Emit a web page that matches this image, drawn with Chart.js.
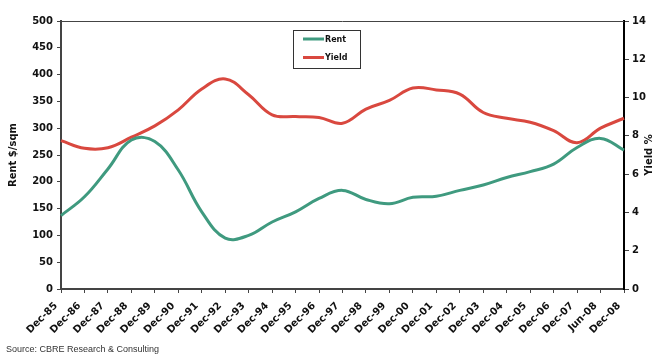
<!DOCTYPE html>
<html>
<head>
<meta charset="utf-8">
<script src="https://cdn.jsdelivr.net/npm/chart.js@4/dist/chart.umd.min.js"></script>
<style>
  html, body { margin: 0; padding: 0; background: #fff; }
  #wrap { width: 655px; height: 354px; position: relative; }
</style>
</head>
<body>
<div id="wrap"><canvas id="c" width="655" height="354"></canvas></div>
<script>
// Periods on the horizontal axis
const categories = ['Dec-85','Dec-86','Dec-87','Dec-88','Dec-89','Dec-90','Dec-91','Dec-92','Dec-93',
  'Dec-94','Dec-95','Dec-96','Dec-97','Dec-98','Dec-99','Dec-00','Dec-01','Dec-02','Dec-03',
  'Dec-04','Dec-05','Dec-06','Dec-07','Jun-08','Dec-08'];

// Rent, $/sqm (left axis)
const rent = [137, 172, 224, 278, 275, 222, 144, 95, 100, 125, 144, 169, 184, 167, 159, 171,
  173, 184, 194, 208, 219, 233, 264, 281, 259];

// Yield, % (right axis)
const yieldPct = [7.75, 7.35, 7.38, 7.93, 8.52, 9.36, 10.45, 10.97, 10.15, 9.10, 9.01, 8.96,
  8.66, 9.40, 9.85, 10.50, 10.40, 10.18, 9.22, 8.92, 8.71, 8.27, 7.64, 8.40, 8.92];

// Axis tick settings
const rentTicks = { min: 0, max: 500, step: 50 };
const yieldTicks = { min: 0, max: 14, step: 2 };

const GREEN = '#3f9a7f';
const RED = '#d9483f';
const BOLD = 'DejaVu Sans';

// Frame line on top, axis titles, legend box and source note
const extras = {
  id: 'extras',
  afterDraw(chart) {
    const { ctx, chartArea: a } = chart;
    ctx.save();
    // top frame line
    ctx.strokeStyle = '#444';
    ctx.lineWidth = 1;
    ctx.beginPath();
    ctx.moveTo(a.left, a.top + 0.5);
    ctx.lineTo(a.right, a.top + 0.5);
    ctx.stroke();

    // axis titles (both read bottom to top)
    ctx.fillStyle = '#111';
    ctx.font = 'bold 10px "' + BOLD + '"';
    ctx.textAlign = 'center';
    ctx.textBaseline = 'middle';
    const midY = (a.top + a.bottom) / 2;
    ctx.save();
    ctx.translate(13, midY);
    ctx.rotate(-Math.PI / 2);
    ctx.fillText('Rent $/sqm', 0, 0);
    ctx.restore();
    ctx.save();
    ctx.translate(649, midY);
    ctx.rotate(-Math.PI / 2);
    ctx.fillText('Yield %', 0, 0);
    ctx.restore();

    // legend
    const lx = 293, ly = 30, lw = 67, lh = 38;
    ctx.strokeStyle = '#333';
    ctx.lineWidth = 1;
    ctx.strokeRect(lx + 0.5, ly + 0.5, lw, lh);
    const entries = [['Rent', GREEN, 39], ['Yield', RED, 57.5]];
    ctx.font = 'bold 8px "' + BOLD + '"';
    ctx.textAlign = 'left';
    entries.forEach(([label, color, y]) => {
      ctx.strokeStyle = color;
      ctx.lineWidth = 3;
      ctx.beginPath();
      ctx.moveTo(303, y);
      ctx.lineTo(324, y);
      ctx.stroke();
      ctx.fillStyle = '#111';
      ctx.fillText(label, 325, y + 0.5);
    });

    // source note
    ctx.font = '9px "Liberation Sans"';
    ctx.fillStyle = '#333';
    ctx.textAlign = 'left';
    ctx.textBaseline = 'alphabetic';
    ctx.fillText('Source: CBRE Research & Consulting', 6, 352);
    ctx.restore();
  }
};

new Chart(document.getElementById('c'), {
  type: 'line',
  data: {
    labels: categories,
    datasets: [
      { label: 'Rent', data: rent, yAxisID: 'yRent', borderColor: GREEN, borderWidth: 3,
        pointRadius: 0, tension: 0.4, fill: false },
      { label: 'Yield', data: yieldPct, yAxisID: 'yYield', borderColor: RED, borderWidth: 3,
        pointRadius: 0, tension: 0.4, fill: false }
    ]
  },
  options: {
    responsive: false,
    animation: false,
    devicePixelRatio: 1,
    layout: { padding: { top: 21, right: 0, bottom: 0, left: 0 } },
    plugins: { legend: { display: false }, tooltip: { enabled: false } },
    scales: {
      x: {
        offset: false,
        grid: { display: true, drawOnChartArea: false, drawTicks: true, tickLength: 4, color: '#444', lineWidth: 1 },
        border: { display: true, color: '#444', width: 2 },
        ticks: {
          autoSkip: false, maxRotation: 45, minRotation: 45, padding: 7, labelOffset: -5,
          color: '#111', font: { family: BOLD, weight: 'bold', size: 10 }
        },
        afterFit(scale) { scale.height = 65; }
      },
      yRent: {
        position: 'left',
        min: rentTicks.min, max: rentTicks.max,
        grid: { display: true, drawOnChartArea: false, tickLength: 4, color: '#444' },
        border: { display: true, color: '#444', width: 2 },
        ticks: { stepSize: rentTicks.step, padding: 4, color: '#111',
          font: { family: BOLD, weight: 'bold', size: 10 } },
        afterFit(scale) { scale.width = 61; }
      },
      yYield: {
        position: 'right',
        min: yieldTicks.min, max: yieldTicks.max,
        grid: { display: true, drawOnChartArea: false, tickLength: 5, color: '#444' },
        border: { display: true, color: '#000', width: 2 },
        ticks: { stepSize: yieldTicks.step, padding: 3, color: '#111',
          font: { family: BOLD, weight: 'bold', size: 10 } },
        afterFit(scale) { scale.width = 31; }
      }
    }
  },
  plugins: [extras]
});
</script>
</body>
</html>
